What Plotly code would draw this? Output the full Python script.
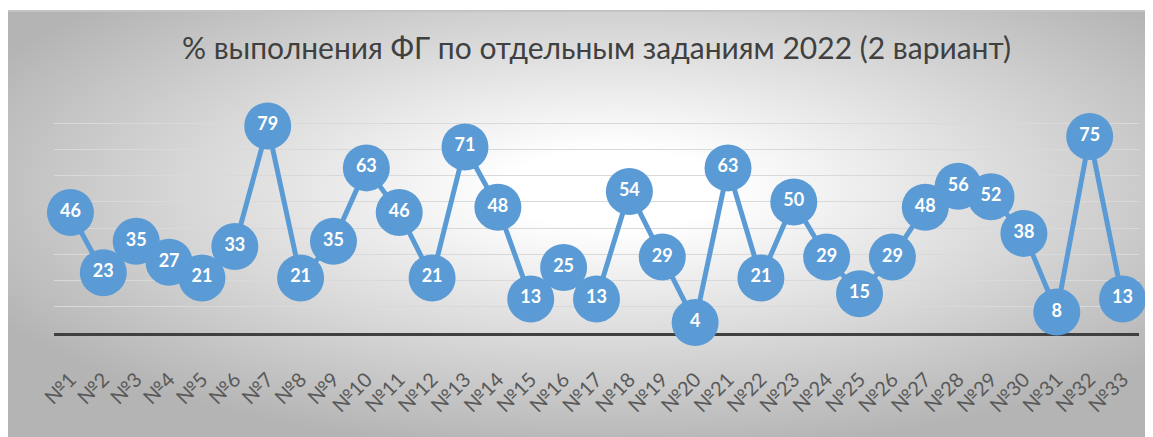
import base64
import plotly.graph_objects as go

categories = [f"№{i}" for i in range(1, 34)]
values = [46, 23, 35, 27, 21, 33, 79, 21, 35, 63, 46, 21, 71, 48, 13, 25, 13, 54, 29, 4,
          63, 21, 50, 29, 15, 29, 48, 56, 52, 38, 8, 75, 13]
title_text = "% выполнения ФГ по отдельным заданиям 2022 (2 вариант)"

# page has an 8px body margin; figure origin sits at page (8, 8)
W, H = 1145, 429
L, R, T, B = 46, 14, 89, 104
pw, ph = W - L - R, H - T - B

svg = f'''<svg xmlns="http://www.w3.org/2000/svg" width="1146" height="427" viewBox="0 0 1146 427" preserveAspectRatio="none">
<defs><radialGradient id="g" cx="0.53" cy="0.42" r="0.62" gradientUnits="objectBoundingBox">
<stop offset="0" stop-color="#ffffff"/><stop offset="0.15" stop-color="#ffffff"/>
<stop offset="1" stop-color="#b4b4b4"/></radialGradient></defs>
<rect x="0" y="0" width="1146" height="427" fill="url(#g)"/>
<rect x="0" y="0" width="1146" height="2" fill="#c4c4c4"/>
</svg>'''
src = "data:image/svg+xml;base64," + base64.b64encode(svg.encode()).decode()

def px_x(p):
    return (p - L) / pw

def px_y(p):
    return (H - B - p) / ph

fig = go.Figure()
fig.add_trace(go.Scatter(
    x=categories, y=values, mode="lines+markers+text",
    line=dict(color="#5b9bd5", width=5),
    marker=dict(size=47, color="#5b9bd5"),
    text=[str(v) for v in values], textposition="middle center",
    textfont=dict(family="Lato", size=18, color="white", weight="bold"),
    cliponaxis=False, hoverinfo="skip",
))

fig.add_layout_image(dict(
    source=src, xref="paper", yref="paper",
    x=px_x(-1), y=px_y(2), sizex=(W + 1) / pw, sizey=(H - 2) / ph,
    xanchor="left", yanchor="top", sizing="stretch", layer="below",
))

fig.update_layout(
    width=W, height=H,
    margin=dict(l=L, r=R, t=T, b=B, pad=0),
    paper_bgcolor="white", plot_bgcolor="rgba(0,0,0,0)",
    showlegend=False,
    title=dict(text=title_text, x=0.5, xref="paper", xanchor="center",
               y=1 - 40 / H, yref="container", yanchor="middle",
               font=dict(family="Lato", size=30, color="#404040")),
    xaxis=dict(type="category", showgrid=False, showline=True, linecolor="#404040",
               linewidth=3, ticks="", tickangle=-45, layer="below traces",
               tickfont=dict(family="Lato", size=20, color="#595959"),
               ticklabelstandoff=24, range=[-0.5, 32.5]),
    yaxis=dict(range=[0, 90.05], tick0=0, dtick=10, showgrid=True, gridcolor="#d9d9d9", gridwidth=1,
               showticklabels=False, zeroline=False, showline=False, layer="below traces"),
)

fig.write_html("out.html")
